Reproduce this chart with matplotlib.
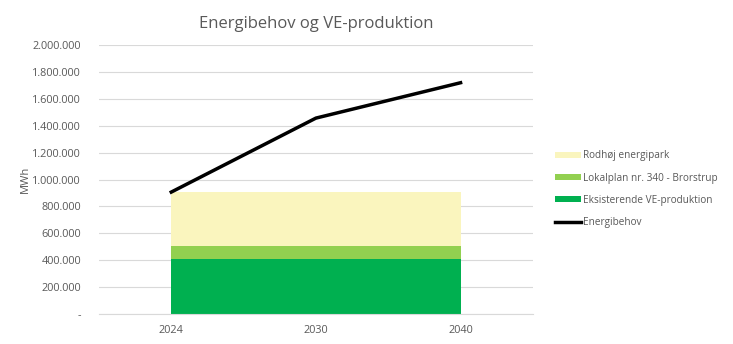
import numpy as np
import matplotlib.pyplot as plt
from matplotlib.ticker import FuncFormatter

years = ['2024', '2030', '2040']
eksisterende = [410000, 410000, 410000]
lokalplan = [96000, 96000, 96000]
rodhoj = [400000, 400000, 400000]
energibehov = [907000, 1457000, 1720000]

plt.rcParams['font.family'] = ['Open Sans', 'DejaVu Sans']


def fmt(v, pos):
    if v == 0:
        return '-'
    return f'{int(v):,}'.replace(',', '.')


def main():
    fig = plt.figure(figsize=(7.33, 3.44), dpi=100)
    ax = fig.add_axes([0.135, 0.087, 0.592, 0.782])
    x = np.arange(len(years))

    ax.stackplot(x, eksisterende, lokalplan, rodhoj,
                 colors=['#00B050', '#92D050', '#FAF5BE'],
                 labels=['Eksisterende VE-produktion', 'Lokalplan nr. 340 - Brorstrup',
                         'Rodhøj energipark'], zorder=2)
    ax.plot(x, energibehov, color='black', lw=2.5, label='Energibehov', zorder=3)

    ax.set_xlim(-0.5, 2.5)
    ax.set_ylim(0, 2000000)
    ax.set_yticks(np.arange(0, 2000001, 200000))
    ax.yaxis.set_major_formatter(FuncFormatter(fmt))
    ax.set_xticks(x)
    ax.set_xticklabels(years)
    ax.grid(axis='y', color='#d9d9d9', lw=0.8, zorder=0)
    ax.set_axisbelow(True)
    for s in ['top', 'right', 'left']:
        ax.spines[s].set_visible(False)
    ax.spines['bottom'].set_color('#d9d9d9')
    ax.tick_params(length=0, labelsize=7.8, colors='#595959')
    ax.tick_params(axis='y', pad=13)
    ax.tick_params(axis='x', pad=8)
    ax.set_ylabel('MWh', fontsize=8, color='#595959', labelpad=1)
    ax.set_title('Energibehov og VE-produktion', fontsize=12, color='#595959', pad=12)

    handles, labels = ax.get_legend_handles_labels()
    order = [2, 1, 0, 3]
    fig.legend([handles[i] for i in order], [labels[i] for i in order],
               loc='center left', bbox_to_anchor=(0.745, 0.45), frameon=False,
               fontsize=7.2, labelcolor='#595959', handlelength=2.6,
               handleheight=0.5, labelspacing=1.12, handletextpad=0.2)
    fig.savefig('out.png', dpi=100)


if __name__ == "__main__":
    main()
